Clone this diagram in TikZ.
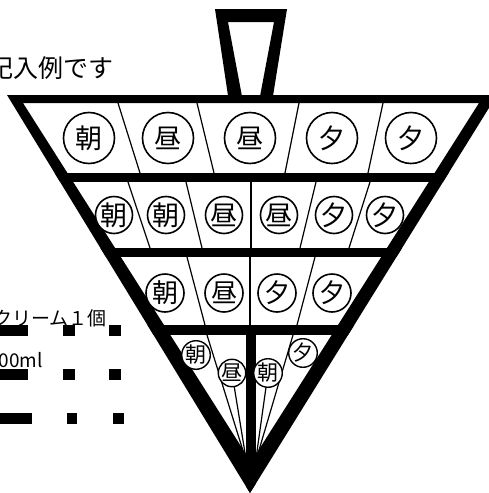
\documentclass[tikz,border=0pt]{standalone}
\usepackage{fontspec}
\newfontfamily\jpfont{Noto Sans CJK JP}
\usetikzlibrary{positioning}

\tikzset{
  frame/.style={fill=black, even odd rule},
  divider/.style={line width=1.2pt},
  meal/.style={circle, draw, fill=white, line width=1.6pt, inner sep=0pt},
  bigmeal/.style={meal, minimum size=51pt, font=\jpfont\fontsize{27pt}{27pt}\selectfont},
  midmeal/.style={meal, minimum size=37pt, font=\jpfont\fontsize{27pt}{27pt}\selectfont},
  lowmeal/.style={meal, minimum size=38pt, font=\jpfont\fontsize{26pt}{26pt}\selectfont},
  tipmeal/.style={meal, line width=1.4pt, minimum size=27pt, font=\jpfont\fontsize{21pt}{21pt}\selectfont},
  note/.style={font=\jpfont\fontsize{19pt}{19pt}\selectfont, inner sep=0pt, anchor=base east},
}

\begin{document}
\begin{tikzpicture}[x=1pt, y=-1pt]

\useasboundingbox (0,0) rectangle (489,493);
\clip (0,0) rectangle (489,493);

% --- marco triangular ---
\fill[frame] (7,95) -- (497,95) -- (250,493) -- cycle
             (23,103) -- (479,103) -- (251,462) -- cycle;

% --- barras horizontales y eje central ---
\begin{scope}
  \clip (7,95) -- (497,95) -- (250,493) -- cycle;
  \fill (0,173) rectangle (489,182);
  \fill (0,248) rectangle (489,257);
  \fill (0,325) rectangle (489,335);
  \fill (246,335) rectangle (256,493);
\end{scope}

% --- asa ---
\fill[frame] (215,9) -- (287,9) -- (272.5,99) -- (228.5,99) -- cycle
             (228,22) -- (274,22) -- (259.5,99) -- (242.5,99) -- cycle;

% --- separadores fila 1 ---
\draw[divider] (118,103) -- (140,173);
\draw[divider] (197,103) -- (214,173);
\draw[divider] (299,103) -- (285,173);
\draw[divider] (383,103) -- (368,173);

% --- separadores fila 2 ---
\draw[divider] (128,182) -- (150,248);
\draw[divider] (186,182) -- (202,248);
\draw[divider] (251,182) -- (251,248);
\draw[divider] (316,182) -- (300,248);
\draw[divider] (370,182) -- (349,248);

% --- separadores fila 3 ---
\draw[divider] (187,257) -- (205,325);
\draw[divider] (250,257) -- (250,325);
\draw[divider] (315,257) -- (297,325);

% --- separadores punta ---
\coordinate (tipL) at (246.5,462);
\coordinate (tipR) at (255.5,462);
\draw[divider] (207,335) -- (tipL);
\draw[divider] (293,335) -- (tipR);

% --- fila 1 ---
\node[bigmeal] (r1a) at (89,138) {朝};
\node[bigmeal] (r1b) at (168,138) {昼};
\node[bigmeal] (r1c) at (250,138) {昼};
\node[bigmeal] (r1d) at (332,138) {夕};
\node[bigmeal] (r1e) at (411,138) {夕};

% --- fila 2 ---
\node[midmeal] (r2a) at (114,215) {朝};
\node[midmeal] (r2b) at (166,215) {朝};
\node[midmeal] (r2c) at (224,215) {昼};
\node[midmeal] (r2d) at (279,215) {昼};
\node[midmeal] (r2e) at (334,215) {夕};
\node[midmeal] (r2f) at (385,215) {夕};

% --- fila 3 ---
\node[lowmeal] (r3a) at (165,293) {朝};
\node[lowmeal] (r3b) at (224,293) {昼};
\node[lowmeal] (r3c) at (277,293) {夕};
\node[lowmeal] (r3d) at (332,293) {夕};

% --- fila 4 ---
\node[tipmeal] (r4a) at (196,355) {朝};
\node[tipmeal] (r4b) at (232,373) {昼};
\node[tipmeal] (r4c) at (268,373) {朝};
\node[tipmeal] (r4d) at (303,353) {夕};
\draw[divider] (r4b) -- (tipL);
\draw[divider] (r4c) -- (tipR);

% --- textos a la izquierda ---
\node[note, font=\jpfont\fontsize{25pt}{25pt}\selectfont] (title) at (114,77) {記入例です};
\node[note] (cream) at (107,325) {クリーム１個};
\node[note] (milk) at (43,367) {500ml};

% --- trazos cortados ---
\fill (0,325) rectangle (28,336);
\fill (63,325) rectangle (75,336);
\fill (109,325) rectangle (121,336);
\fill (0,369) rectangle (28,380);
\fill (63,369) rectangle (75,380);
\fill (109,369) rectangle (121,380);
\fill (0,413) rectangle (32,424);
\fill (67,413) rectangle (77,424);
\fill (113,413) rectangle (124,424);

\end{tikzpicture}
\end{document}
